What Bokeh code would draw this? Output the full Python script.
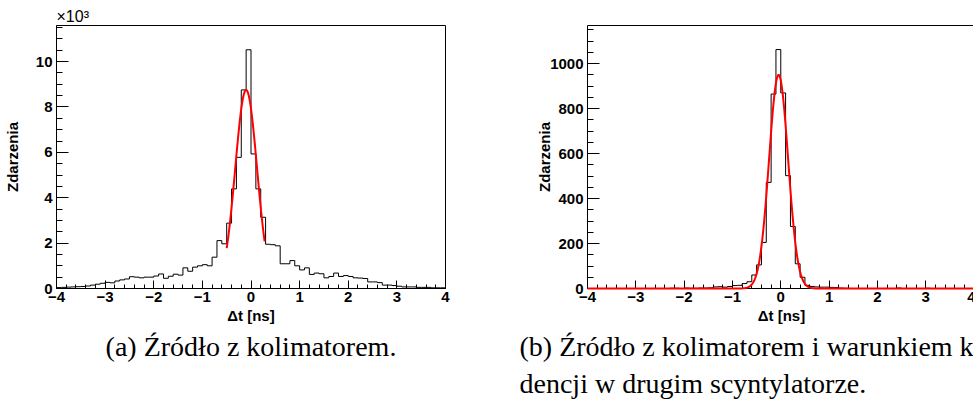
import numpy as np
from bokeh.plotting import figure
from bokeh.models import (LinearAxis, SingleIntervalTicker, FixedTicker, Range1d,
                          CustomJSTickFormatter, Title)
from bokeh.layouts import row
from bokeh.embed import file_html
from bokeh.resources import INLINE

# Time-difference binning (ns): 80 bins of 0.1 ns
t_min, t_max, n_bins = -4.0, 4.0, 80

# (a) source with collimator: events per bin
counts_a = [
    40, 50, 60, 70, 80, 90, 110, 150, 190, 230,
    270, 250, 330, 380, 420, 520, 500, 470, 500, 500,
    550, 640, 450, 540, 630, 590, 910, 760, 940, 1000,
    1050, 1000, 1380, 2110, 1970, 2880, 4390, 5780, 8750, 10520,
    5930, 4390, 3140, 1950, 1930, 1880, 1090, 1090, 1230, 1000,
    820, 910, 620, 680, 650, 470, 530, 680, 530, 570,
    530, 470, 460, 440, 290, 290, 260, 150, 150, 130,
    100, 70, 70, 70, 50, 50, 50, 30, 30, 30,
]

# (b) source with collimator and coincidence in the second scintillator
counts_b = [
    0, 0, 0, 0, 0, 0, 0, 0, 0, 0,
    0, 0, 0, 0, 0, 0, 0, 1, 1, 0,
    2, 1, 1, 2, 2, 3, 7, 8, 6, 9,
    13, 14, 22, 30, 60, 105, 205, 472, 865, 1063,
    870, 502, 276, 110, 50, 14, 9, 7, 6, 6,
    5, 4, 2, 1, 0, 0, 0, 0, 0, 0,
    0, 0, 0, 0, 2, 0, 0, 0, 0, 0,
    1, 0, 0, 0, 0, 0, 0, 0, 0, 0,
]

# Gaussian fit parameters: amplitude, mean (ns), sigma (ns), fit range (ns)
fit_a = {"amp": 8750, "mean": -0.10, "sigma": 0.224, "lo": -0.50, "hi": 0.28}
fit_b = {"amp": 950, "mean": -0.045, "sigma": 0.197, "lo": -4.0, "hi": 4.0}

y_max_a = 11590
y_max_b = 1170

captions_a = ["(a) Źródło z kolimatorem."]
captions_b = ["(b) Źródło z kolimatorem i warunkiem koincy-",
              "dencji w drugim scyntylatorze."]

SANS = "Liberation Sans"
SERIF = "Liberation Serif"

minus_fmt = CustomJSTickFormatter(code="return String(tick).replace('-', '\u2212');")


def make_panel(counts, fit, y_max, y_step, y_fmt, x_end, frame_w, border_l, border_r,
               ylabel_standoff):
    p = figure(x_range=Range1d(t_min, x_end), y_range=Range1d(0, y_max),
               frame_width=frame_w, frame_height=263,
               min_border_left=border_l, min_border_right=border_r,
               min_border_top=25, min_border_bottom=121,
               x_axis_label="Δt [ns]", y_axis_label="Zdarzenia",
               toolbar_location=None, output_backend="svg",
               background_fill_color="white", border_fill_color="white")
    p.xgrid.visible = False
    p.ygrid.visible = False

    xa, ya = p.xaxis[0], p.yaxis[0]
    xa.ticker = SingleIntervalTicker(interval=1, num_minor_ticks=5)
    ya.ticker = SingleIntervalTicker(interval=y_step, num_minor_ticks=4)
    xa.formatter = minus_fmt
    if y_fmt is not None:
        ya.formatter = y_fmt
    for ax in (xa, ya):
        ax.major_tick_out = 0
        ax.minor_tick_out = 0
        ax.axis_line_color = "black"
        ax.major_tick_line_color = "black"
        ax.minor_tick_line_color = "black"
        ax.major_label_text_font = SANS
        ax.major_label_text_font_size = "15px"
        ax.major_label_text_font_style = "bold"
        ax.major_label_text_color = "black"
        ax.axis_label_text_font = SANS
        ax.axis_label_text_font_size = "15px"
        ax.axis_label_text_font_style = "bold"
        ax.axis_label_text_color = "black"
    xa.major_tick_in = 8
    xa.minor_tick_in = 4
    xa.major_label_standoff = 3
    xa.axis_label_standoff = 2
    ya.major_tick_in = 12
    ya.minor_tick_in = 6
    ya.major_label_standoff = 4
    ya.axis_label_standoff = ylabel_standoff

    # histogram outline
    edges = np.linspace(t_min, t_max, n_bins + 1)
    p.step(edges, list(counts) + [counts[-1]], mode="after",
           line_color="black", line_width=1)

    # Gaussian fit, drawn over the axes so it stays visible along the baseline
    xs = np.linspace(fit["lo"], fit["hi"], 800)
    ys = fit["amp"] * np.exp(-0.5 * ((xs - fit["mean"]) / fit["sigma"]) ** 2)
    p.line(xs, ys, line_color="red", line_width=2, level="overlay")
    return p


p_a = make_panel(counts_a, fit_a, y_max_a, 2000,
                 CustomJSTickFormatter(code="return (tick/1000).toFixed(0);"),
                 t_max, 389, 54, 37, 12)
p_a.outline_line_color = "black"
p_a.outline_line_width = 1
p_a.add_layout(Title(text="×10³", align="left", text_font=SANS,
                     text_font_size="16px", text_font_style="normal",
                     text_color="black", standoff=1), "above")

p_b = make_panel(counts_b, fit_b, y_max_b, 200, None,
                 4.03, 388, 105, 0, -6)
p_b.outline_line_color = None
top_axis = LinearAxis(ticker=FixedTicker(ticks=[]), major_label_text_font_size="0px",
                      axis_line_color="black", major_tick_in=0, major_tick_out=0,
                      minor_tick_in=0, minor_tick_out=0)
p_b.add_layout(top_axis, "above")

for text in captions_a:
    p_a.add_layout(Title(text=text, align="center", text_font=SERIF,
                         text_font_size="28px", text_font_style="normal",
                         text_color="black", standoff=4), "below")
for text in captions_b:
    p_b.add_layout(Title(text=text, align="left", offset=-68, text_font=SERIF,
                         text_font_size="28px", text_font_style="normal",
                         text_color="black", standoff=4), "below")

layout = row(p_a, p_b)
open("out.html", "w").write(file_html(layout, INLINE))
